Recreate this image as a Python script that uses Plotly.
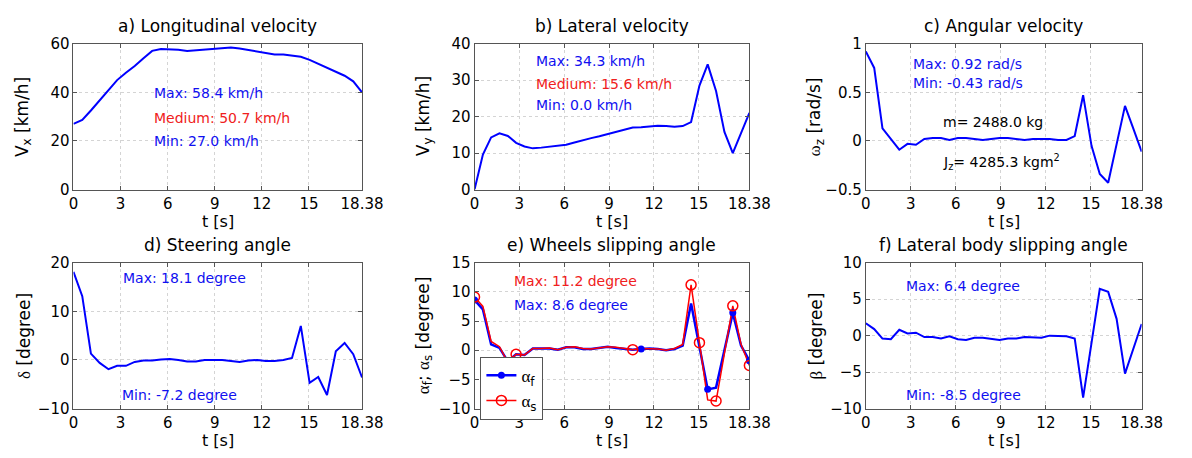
import plotly.graph_objects as go

# ---------------- data ----------------
t = [0.00, 0.56, 1.11, 1.67, 2.23, 2.78, 3.34, 3.90, 4.46, 5.01, 5.57, 6.13,
     6.68, 7.24, 7.80, 8.35, 8.91, 9.47, 10.03, 10.58, 11.14, 11.70, 12.25,
     12.81, 13.37, 13.92, 14.48, 15.04, 15.59, 16.15, 16.71, 17.27, 17.82, 18.38]

vx = [27.0, 28.6, 32.5, 36.8, 41.2, 45.0, 48.0, 50.8, 54.0, 57.0, 57.8, 57.8,
      57.5, 57.0, 57.3, 57.5, 58.1, 58.3, 58.4, 58.0, 57.4, 56.7, 56.0,
      55.5, 55.5, 55.2, 54.6, 53.3, 51.7, 49.8, 48.5, 46.8, 44.5, 40.0]

vy = [0.0, 9.6, 14.3, 15.4, 14.7, 12.8, 11.8, 11.3, 11.5, 11.7, 12.0, 12.3,
      12.9, 13.6, 14.1, 14.6, 15.2, 15.9, 16.4, 17.0, 17.1, 17.3, 17.5,
      17.4, 17.2, 17.4, 18.5, 28.5, 34.3, 27.0, 15.8, 10.0, 15.2, 21.0]

wz = [0.92, 0.75, 0.13, 0.02, -0.09, -0.03, -0.04, 0.02, 0.03, 0.03, 0.01, 0.03,
      0.03, 0.02, 0.01, 0.02, 0.03, 0.03, 0.02, 0.01, 0.02, 0.02, 0.02,
      0.01, 0.01, 0.05, 0.47, -0.05, -0.34, -0.43, -0.03, 0.36, 0.13, -0.11]

delta = [18.1, 13.1, 1.3, -0.6, -1.9, -1.2, -1.2, -0.4, -0.1, -0.1, 0.1, 0.2,
         0.0, -0.3, -0.3, 0.0, 0.0, 0.0, -0.2, -0.4, -0.1, 0.0, -0.2,
         -0.2, 0.0, 0.4, 7.0, -4.7, -3.5, -7.2, 1.8, 3.5, 1.2, -3.6]

alpha_f = [8.6, 7.0, 1.0, 0.4, -1.9, -0.7, -0.8, 0.3, 0.3, 0.3, 0.1, 0.5,
           0.5, 0.2, 0.2, 0.4, 0.6, 0.4, 0.3, 0.1, 0.2, 0.3, 0.2,
           0.0, 0.2, 0.8, 8.0, 0.6, -6.7, -6.4, 0.0, 6.4, 0.8, -1.8]

alpha_s = [9.1, 7.5, 1.5, 0.6, -2.1, -0.7, -0.8, 0.3, 0.3, 0.4, 0.1, 0.5,
           0.6, 0.3, 0.2, 0.4, 0.6, 0.5, 0.3, 0.1, 0.3, 0.3, 0.2,
           0.0, 0.3, 1.0, 11.2, 1.3, -8.5, -8.7, -0.5, 7.6, 1.0, -2.6]

beta = [1.7, 0.9, -0.4, -0.5, 0.8, 0.3, 0.4, -0.2, -0.2, -0.4, -0.1, -0.5,
        -0.6, -0.3, -0.3, -0.4, -0.6, -0.4, -0.4, -0.2, -0.2, -0.3, 0.0,
        0.0, -0.1, -0.4, -8.5, -1.0, 6.4, 6.0, 2.3, -5.2, -1.8, 1.6]

# sample indexes where markers are shown in panel e
alpha_f_marks = [0, 20, 28, 31, 33]
alpha_s_marks = [0, 5, 19, 26, 27, 29, 31, 33]

x_tickvals = [0, 3, 6, 9, 12, 15, 18.38]
x_ticktext = ["0", "3", "6", "9", "12", "15", "18.38"]

titles = ["a) Longitudinal velocity", "b) Lateral velocity", "c) Angular velocity",
          "d) Steering angle", "e) Wheels slipping angle", "f) Lateral body slipping angle"]

SERIF = "Liberation Serif"
def greek(ch):
    return f'<span style="font-family:{SERIF}">{ch}</span>'

ylabels = ["V<sub>x</sub> [km/h]", "V<sub>y</sub> [km/h]",
           greek("ω") + "<sub>z</sub> [rad/s]",
           greek("δ") + " [degree]",
           greek("α") + "<sub>f</sub>; " + greek("α") + "<sub>s</sub> [degree]",
           greek("β") + " [degree]"]

yranges = [[0, 60], [0, 40], [-0.5, 1], [-10, 20], [-10, 15], [-10, 10]]
ydticks = [20, 10, 0.5, 10, 5, 5]

BLUE = "#0000ff"
RED = "#ff0000"
TBLUE = "#1010f0"
TRED = "#f02020"
FONT = "DejaVu Sans"

W, H = 1192, 458
cols = [(70, 365), (480, 761), (880, 1162)]
rows = [(36, 188), (264, 416)]

fig = go.Figure()

series = [vx, vy, wz, delta, None, beta]
for i, s in enumerate(series):
    ax = "" if i == 0 else str(i + 1)
    if s is not None:
        fig.add_trace(go.Scatter(x=t, y=s, mode="lines", line=dict(color=BLUE, width=2),
                                 xaxis="x" + ax, yaxis="y" + ax, showlegend=False,
                                 hoverinfo="skip"))

# panel e
fig.add_trace(go.Scatter(x=t, y=alpha_f, mode="lines", line=dict(color=BLUE, width=2.5),
                         xaxis="x5", yaxis="y5", showlegend=False))
fig.add_trace(go.Scatter(x=t, y=alpha_s, mode="lines", line=dict(color=RED, width=1.5),
                         xaxis="x5", yaxis="y5", showlegend=False))
fig.add_trace(go.Scatter(x=[t[k] for k in alpha_f_marks], y=[alpha_f[k] for k in alpha_f_marks],
                         mode="markers", marker=dict(color=BLUE, size=7),
                         xaxis="x5", yaxis="y5", showlegend=False))
fig.add_trace(go.Scatter(x=[t[k] for k in alpha_s_marks], y=[alpha_s[k] for k in alpha_s_marks],
                         mode="markers",
                         marker=dict(color="rgba(0,0,0,0)", size=10, line=dict(color=RED, width=1.5)),
                         xaxis="x5", yaxis="y5", showlegend=False))
# legend entries
fig.add_trace(go.Scatter(x=[None], y=[None], mode="lines+markers", name=greek("α") + "<sub>f</sub>",
                         line=dict(color=BLUE, width=2.5), marker=dict(color=BLUE, size=7),
                         xaxis="x5", yaxis="y5"))
fig.add_trace(go.Scatter(x=[None], y=[None], mode="lines+markers", name=greek("α") + "<sub>s</sub>",
                         line=dict(color=RED, width=1.5),
                         marker=dict(color="rgba(0,0,0,0)", size=10, line=dict(color=RED, width=1.5)),
                         xaxis="x5", yaxis="y5"))

layout = dict(width=W, height=H, margin=dict(l=0, r=0, t=0, b=0),
              paper_bgcolor="white", plot_bgcolor="white",
              font=dict(family=FONT, size=16, color="black"),
              showlegend=True,
              legend=dict(x=486 / W, y=(H - 362) / H, xanchor="left", yanchor="top",
                          bgcolor="white", bordercolor="#555", borderwidth=1,
                          font=dict(size=17, family=FONT), tracegroupgap=0,
                          itemwidth=30))

annotations = []
for i in range(6):
    r, c = divmod(i, 3)
    x0, x1 = cols[c]
    y0, y1 = rows[r]
    ax = "" if i == 0 else str(i + 1)
    common_axis = dict(showline=True, linecolor="#555", linewidth=1, mirror="ticks",
                       ticks="inside", ticklen=4, tickcolor="#555",
                       showgrid=True, gridcolor="#d4d4d4", griddash="dot", gridwidth=1,
                       zeroline=False, tickfont=dict(size=15, color="black"))
    layout["xaxis" + ax] = dict(domain=[x0 / W, x1 / W], anchor="y" + ax,
                                range=[0, 18.38], tickmode="array",
                                tickvals=x_tickvals, ticktext=x_ticktext, **common_axis)
    layout["yaxis" + ax] = dict(domain=[(H - y1) / H, (H - y0) / H], anchor="x" + ax,
                                range=yranges[i], dtick=ydticks[i], tick0=0, **common_axis)
    annotations.append(dict(text=titles[i], xref=f"x{ax} domain", yref=f"y{ax} domain",
                            x=0.5, y=1, yshift=18, showarrow=False, xanchor="center",
                            yanchor="middle", font=dict(size=17)))
    annotations.append(dict(text="t [s]", xref=f"x{ax} domain", yref=f"y{ax} domain",
                            x=0.5, y=0, yshift=-32, showarrow=False, xanchor="center",
                            yanchor="middle", font=dict(size=16)))
    annotations.append(dict(text=ylabels[i], xref=f"x{ax} domain", yref=f"y{ax} domain",
                            x=0, y=0.5, xshift=-50, showarrow=False, xanchor="center",
                            yanchor="middle", textangle=-90, font=dict(size=17)))

def note(text, xa, ya, x, y, color):
    annotations.append(dict(text=text, xref=xa, yref=ya, x=x, y=y, showarrow=False,
                            xanchor="left", yanchor="middle", font=dict(size=14, color=color)))

note("Max: 58.4 km/h", "x", "y", 5.0, 39.7, TBLUE)
note("Medium: 50.7 km/h", "x", "y", 5.0, 29.6, TRED)
note("Min: 27.0 km/h", "x", "y", 5.0, 20.0, TBLUE)
note("Max: 34.3 km/h", "x2", "y2", 4.0, 35.1, TBLUE)
note("Medium: 15.6 km/h", "x2", "y2", 4.0, 29.0, TRED)
note("Min: 0.0 km/h", "x2", "y2", 4.0, 23.2, TBLUE)
note("Max: 0.92 rad/s", "x3", "y3", 3.0, 0.79, TBLUE)
note("Min: -0.43 rad/s", "x3", "y3", 3.0, 0.59, TBLUE)
note("m= 2488.0 kg", "x3", "y3", 5.0, 0.19, "black")
note("J<sub>z</sub>= 4285.3 kgm<sup>2</sup>", "x3", "y3", 5.0, -0.22, "black")
note("Max: 18.1 degree", "x4", "y4", 3.0, 16.9, TBLUE)
note("Min: -7.2 degree", "x4", "y4", 2.95, -7.2, TBLUE)
note("Max: 11.2 degree", "x5", "y5", 2.5, 11.8, TRED)
note("Max: 8.6 degree", "x5", "y5", 2.5, 7.7, TBLUE)
note("Max: 6.4 degree", "x6", "y6", 2.55, 6.8, TBLUE)
note("Min: -8.5 degree", "x6", "y6", 2.55, -8.1, TBLUE)

layout["annotations"] = annotations
fig.update_layout(**layout)

fig.write_html("out.html", config={"displayModeBar": False},
               post_script="document.body.style.margin='0px';document.body.style.padding='0px';")
